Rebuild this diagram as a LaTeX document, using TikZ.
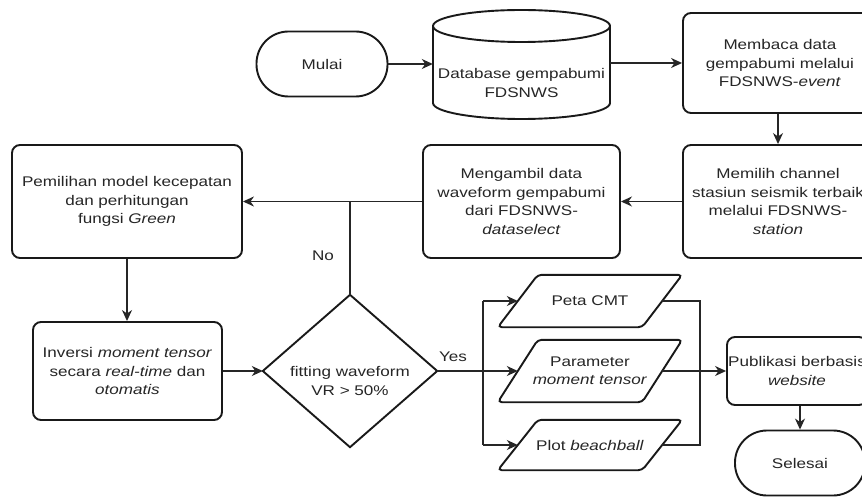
\documentclass[tikz,border=0pt]{standalone}
\usepackage{fontspec}
\setmainfont{Liberation Sans}[FakeStretch=1.22]
\usetikzlibrary{arrows.meta,calc}
\begin{document}
\begin{tikzpicture}[x=1pt,y=-1pt,
  every node/.style={font=\fontsize{14}{18.4}\selectfont, text=black!85, align=center, inner sep=0pt},
  box/.style={draw=black!90, line width=1.9pt, rounded corners=8pt, minimum width=#1},
  term/.style={draw=black!90, line width=1.9pt, rounded corners=32pt, minimum width=#1, minimum height=65pt},
  shp/.style={draw=black!90, line width=1.9pt},
  para/.style={minimum width=144pt},
  conn/.style={draw=black!85, line width=1.3pt},
  arr/.style={conn, -{Stealth[length=11pt,width=10pt,inset=3.5pt]}}
]
\clip (0,0) rectangle (862,497);
\fill[white] (0,0) rectangle (862,497);

% nodes
\node[term=131pt] (mulai) at (322,64) {Mulai};
\node[minimum width=177pt] (db) at (521.5,83) {Database gempabumi\\FDSNWS};
\node[box=194pt, minimum height=100pt] (membaca) at (780,63) {Membaca data\\gempabumi melalui\\FDSNWS-\textit{event}};
\node[box=190pt, minimum height=113pt] (memilih) at (778,201.5) {Memilih channel\\stasiun seismik terbaik\\melalui FDSNWS-\\\textit{station}};
\node[box=197pt, minimum height=113pt] (mengambil) at (521.5,201.5) {Mengambil data\\waveform gempabumi\\dari FDSNWS-\\\textit{dataselect}};
\node[box=230pt, minimum height=113pt] (pemilihan) at (127,201.5) {Pemilihan model kecepatan\\dan perhitungan\\fungsi \textit{Green}};
\node[box=189pt, minimum height=98pt] (inversi) at (127.5,371) {Inversi \textit{moment tensor}\\secara \textit{real-time} dan\\\textit{otomatis}};
\node[minimum width=174pt, minimum height=152pt] (dia) at (350,371) {};
\node (diatxt) at (350,381) {fitting waveform\\VR {>} 50\%};
\node[para, minimum height=52pt] (p1) at (590,301) {Peta CMT};
\node[para, minimum height=62pt] (p2) at (590,371) {Parameter\\\textit{moment tensor}};
\node[para, minimum height=50pt] (p3) at (590,445) {Plot \textit{beachball}};
\node[box=140pt, minimum height=68pt] (pub) at (797,371) {Publikasi berbasis\\\textit{website}};
\node[term=130pt] (selesai) at (800,463) {Selesai};
\node (no) at (323,256) {No};
\node (yes) at (453,357) {Yes};

% cylinder
\draw[shp] (433,26) -- (433,103) arc[start angle=180, end angle=360, x radius=88.5pt, y radius=16pt] -- (610,26);
\draw[shp] (521.5,26) ellipse [x radius=88.5pt, y radius=16pt];

% diamond
\draw[shp] (dia.north) -- (dia.east) -- (dia.south) -- (dia.west) -- cycle;

% parallelograms
\foreach \p in {p1,p2,p3}{
  \draw[shp, rounded corners=4pt] ([xshift=20pt]\p.north west) -- ([xshift=20pt]\p.north east)
     -- ([xshift=-20pt]\p.south east) -- ([xshift=-20pt]\p.south west) -- cycle;
}

% coordinates for branches
\coordinate (bl) at (483,371);
\coordinate (br) at (700,371);

% connectors
\draw[arr] (mulai.east) -- (mulai.east -| db.west);
\draw[arr] (membaca.west -| db.east) -- (membaca.west);
\draw[arr] (memilih.north |- membaca.south) -- (memilih.north);
\draw[arr] (memilih.west) -- (mengambil.east);
\draw[arr] (mengambil.west) -- (pemilihan.east);
\draw[conn] (dia.north) -- (dia.north |- pemilihan.east);
\draw[arr] (pemilihan.south) -- (pemilihan.south |- inversi.north);
\draw[arr] (inversi.east) -- (dia.west);
\draw[arr] (dia.east) -- (p2.west);
\draw[conn] (bl |- p1.west) -- (bl |- p3.west);
\draw[arr] (bl |- p1.west) -- (p1.west);
\draw[arr] (bl |- p3.west) -- (p3.west);
\draw[conn] (p1.east) -- (br |- p1.east) -- (br |- p3.east) -- (p3.east);
\draw[arr] (p2.east) -- (pub.west);
\draw[arr] (selesai.north |- pub.south) -- (selesai.north);
\end{tikzpicture}
\end{document}
